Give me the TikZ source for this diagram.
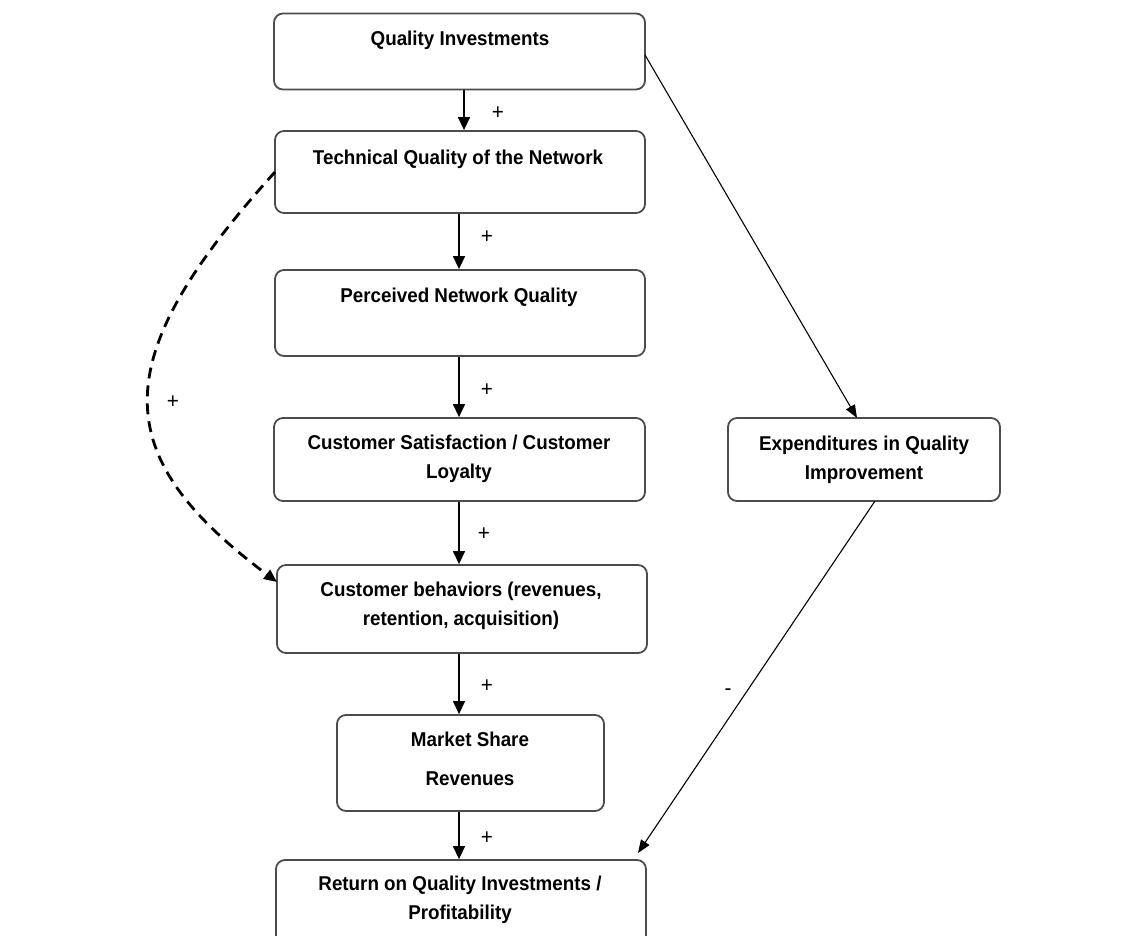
\documentclass[tikz,border=0pt]{standalone}
\usepackage{fontspec}
\setmainfont{Liberation Sans}[FakeStretch=0.94]
\usetikzlibrary{arrows.meta}
\begin{document}
\begin{tikzpicture}[x=1pt,y=-1pt,
  box/.style={draw=black!70,line width=1.8pt,rounded corners=9pt,inner sep=0pt},
  lbl/.style={font=\fontsize{20}{28.5}\selectfont\bfseries,align=center,inner sep=0pt,anchor=north},
  sgn/.style={font=\fontsize{22}{22}\selectfont,inner sep=0pt},
  arr/.style={draw=black,line width=1.4pt,-{Triangle[length=13pt,width=12pt]}},
  thin/.style={draw=black,line width=1.1pt,-{Triangle[length=13pt,width=10pt]}}]
\useasboundingbox (0,0) rectangle (1145,936);
% boxes
\node[box,minimum width=371pt,minimum height=76pt] (qi) at (459.5,51.5) {};
\node[box,minimum width=370pt,minimum height=82pt] (tq) at (460,172) {};
\node[box,minimum width=370pt,minimum height=86pt] (pq) at (460,313) {};
\node[box,minimum width=371pt,minimum height=83pt] (cs) at (459.5,459.5) {};
\node[box,minimum width=370pt,minimum height=88pt] (cb) at (462,609) {};
\node[box,minimum width=267pt,minimum height=96pt] (ms) at (470.5,763) {};
\node[box,minimum width=370pt,minimum height=90pt] (rq) at (461,905) {};
\node[box,minimum width=272pt,minimum height=83pt] (eq) at (864,459.5) {};
% texts
\node[lbl] (tqi) at (460,31) {Quality Investments};
\node[lbl] (ttq) at (458,150) {Technical Quality of the Network};
\node[lbl] (tpq) at (459,288) {Perceived Network Quality};
\node[lbl] (tcs) at (459,435) {Customer Satisfaction / Customer\\Loyalty};
\node[lbl] (tcb) at (461,582) {Customer behaviors (revenues,\\retention, acquisition)};
\node[lbl,font=\fontsize{20}{39}\selectfont\bfseries] (tms) at (470,732) {Market Share\\Revenues};
\node[lbl] (trq) at (460,876) {Return on Quality Investments /\\Profitability};
\node[lbl] (teq) at (864,436) {Expenditures in Quality\\Improvement};
% vertical arrows
\coordinate (a1) at (464,89.5);
\draw[arr] (qi.south -| a1) -- (tq.north -| a1);
\coordinate (a2) at (459,0);
\draw[arr] (tq.south -| a2) -- (pq.north -| a2);
\draw[arr] (pq.south -| a2) -- (cs.north -| a2);
\draw[arr] (cs.south -| a2) -- (cb.north -| a2);
\draw[arr] (cb.south -| a2) -- (ms.north -| a2);
\draw[arr] (ms.south -| a2) -- (rq.north -| a2);
\node[sgn] (p1) at (498,113) {+};
\node[sgn] (p2) at (487,237) {+};
\node[sgn] (p3) at (487,390) {+};
\node[sgn] (p4) at (484,534) {+};
\node[sgn] (p5) at (487,686) {+};
\node[sgn] (p6) at (487,838) {+};
% diagonal arrows
\coordinate (d1) at (645,55);
\coordinate (d2) at (857,418);
\draw[thin] (d1) -- (d2);
\coordinate (d3) at (875,501);
\coordinate (d4) at (638,853);
\draw[thin] (d3) -- (d4);
\node[sgn] (mn) at (728,692) {-};
% dashed curve
\coordinate (c1) at (275,172);
\coordinate (c2) at (277,582);
\draw[draw=black,line width=2.8pt,dash pattern=on 11pt off 7pt,-{Triangle[length=13pt,width=11pt]}]
  (c1) .. controls (105,360) and (107,455) .. (c2);
\node[sgn] (pd) at (173,402) {+};
\end{tikzpicture}
\end{document}
